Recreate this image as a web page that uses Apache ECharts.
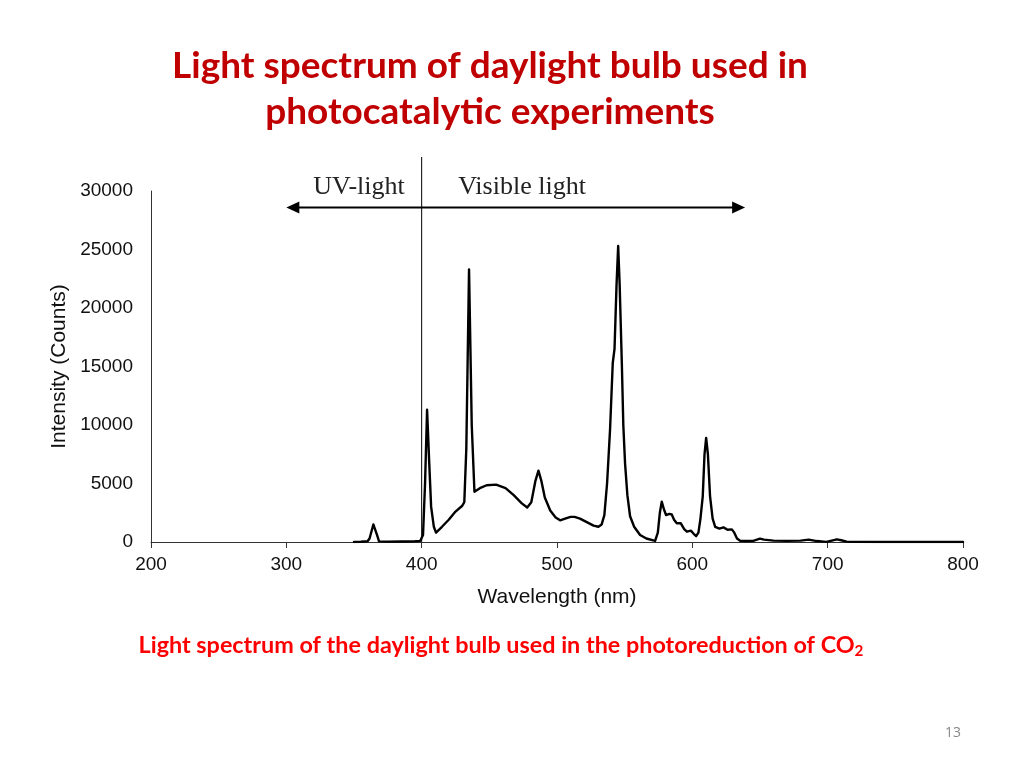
<!DOCTYPE html>
<html><head><meta charset="utf-8">
<script src="https://cdn.jsdelivr.net/npm/echarts@6/dist/echarts.min.js"></script>
<style>html,body{margin:0;padding:0;background:#fff}#c{width:1024px;height:768px}</style>
</head><body><div id="c"></div>
<script>
// ---- data ----
const wavelengths = [350,355,360,361.5,364.3,367,368.5,375,385,395,399,401,402.5,404,405.5,407,409,410.6,415,420,425,430,431.5,433,435,437,439,443,448,455,462,468,474,478,481,484,486.3,488.5,491,495,499,502.3,506,510,513,517,522,527,530.6,533,535,537,539.2,541.2,542.5,544,545.2,546.3,547.9,549,550.3,552,554,557,561.4,566,572.5,574.5,576,577.4,579,580.6,583,584.8,586.5,588.5,591.5,594,596,598.9,601,602.8,604.5,606,607.7,609,610.2,611.5,613.1,615,616.9,620,623,626,629.2,631,633,635.3,640,645,650,653,660,670,680,686,692,699,703,706.8,710,714,720,740,760,780,800];
const intensity = [0,20,60,300,1500,600,50,30,40,60,100,600,5000,11300,7000,3000,1300,800,1300,1900,2600,3100,3400,8000,23300,10000,4300,4600,4850,4900,4600,4000,3300,2950,3400,5200,6100,5200,3800,2700,2100,1850,2000,2150,2150,2000,1700,1400,1300,1500,2300,5000,9600,15300,16500,22000,25300,22000,15300,10000,6700,4000,2200,1300,600,300,90,800,2500,3450,2800,2300,2400,2350,1900,1600,1600,1100,880,970,700,500,800,2000,3900,7500,8900,7500,3900,2000,1300,1150,1250,1050,1080,800,300,110,80,100,290,200,120,100,120,200,80,10,120,230,150,30,10,0,0,0,0];
const xTicks = [200,300,400,500,600,700,800];
const yTicks = [0,5000,10000,15000,20000,25000,30000];
const titleLines = ['Light spectrum of daylight bulb used in','photocatalytic experiments'];
const captionText = 'Light spectrum of the daylight bulb used in the photoreduction of CO';
const regionLabels = ['UV-light','Visible light'];
const boundaryNm = 400;
const arrowRange = [300, 639];
const arrowLevel = 28600;
const pageNumber = '13';

const series = wavelengths.map((w,i)=>[w,intensity[i]]);

function fit(text, font, weight, target){
  const c=document.createElement('canvas').getContext('2d');
  c.font = weight+' 100px '+font;
  return 100*target/c.measureText(text).width;
}
const titleFont = 'Lato';
const tSize = fit(titleLines[0], titleFont, 'bold', 636);
const capSize = fit(captionText+'2', titleFont, 'bold', 730);

const chart = echarts.init(document.getElementById('c'), null, {renderer:'canvas'});
const axisFont = 'Liberation Sans, Arial, sans-serif';
chart.setOption({
  animation:false,
  backgroundColor:'#fff',
  grid:{left:151,right:61,top:191,bottom:226,containLabel:false},
  xAxis:{type:'value',min:xTicks[0],max:xTicks[xTicks.length-1],interval:100,
    name:'Wavelength (nm)',nameLocation:'middle',nameGap:45,
    nameTextStyle:{fontFamily:axisFont,fontSize:21,color:'#111'},
    axisLine:{show:true,lineStyle:{color:'#333',width:1}},
    axisTick:{show:true,length:6,lineStyle:{color:'#333'}},
    axisLabel:{fontFamily:axisFont,fontSize:19,color:'#111',margin:13,formatter:v=>String(v)},
    splitLine:{show:false}},
  yAxis:{type:'value',min:yTicks[0],max:yTicks[yTicks.length-1],interval:5000,
    name:'Intensity (Counts)',nameLocation:'middle',nameGap:80,
    nameTextStyle:{fontFamily:axisFont,fontSize:21,color:'#111'},
    axisLine:{show:true,lineStyle:{color:'#333',width:1}},
    axisTick:{show:false},
    axisLabel:{fontFamily:axisFont,fontSize:19,color:'#111',margin:18,formatter:v=>String(v)},
    splitLine:{show:false}},
  series:[{type:'line',data:series,showSymbol:false,symbol:'none',smooth:false,
    lineStyle:{color:'#000',width:2.4,join:'round',cap:'round'},z:5}]
});

const p0 = chart.convertToPixel({gridIndex:0},[boundaryNm,0]);
const pTop = chart.convertToPixel({gridIndex:0},[boundaryNm,30000]);
const a1 = chart.convertToPixel({gridIndex:0},[arrowRange[0],arrowLevel]);
const a2 = chart.convertToPixel({gridIndex:0},[arrowRange[1],arrowLevel]);
const ay = a1[1];
const serif = 'Liberation Serif, Times New Roman, serif';
chart.setOption({graphic:[
  {type:'line',shape:{x1:p0[0],y1:pTop[1]-34,x2:p0[0],y2:p0[1]},style:{stroke:'#000',lineWidth:1},z:3},
  {type:'line',shape:{x1:a1[0]+4,y1:ay,x2:a2[0]-4,y2:ay},style:{stroke:'#000',lineWidth:2}},
  {type:'polygon',shape:{points:[[a1[0],ay],[a1[0]+13,ay-6],[a1[0]+13,ay+6]]},style:{fill:'#000'}},
  {type:'polygon',shape:{points:[[a2[0],ay],[a2[0]-13,ay-6],[a2[0]-13,ay+6]]},style:{fill:'#000'}},
  {type:'text',x:359,y:ay-20,style:{text:regionLabels[0],font:'26px '+serif,fill:'#222',align:'center',verticalAlign:'middle'}},
  {type:'text',x:522,y:ay-20,style:{text:regionLabels[1],font:'26px '+serif,fill:'#222',align:'center',verticalAlign:'middle'}},
  {type:'text',x:490,y:66,style:{text:titleLines[0],font:'bold '+tSize+'px '+titleFont,fill:'#C00000',align:'center',verticalAlign:'middle'}},
  {type:'text',x:490,y:112,style:{text:titleLines[1],font:'bold '+tSize+'px '+titleFont,fill:'#C00000',align:'center',verticalAlign:'middle'}},
  {type:'text',x:501,y:645,style:{text:'{a|'+captionText+'}{s|2}',align:'center',verticalAlign:'middle',fill:'#FF0000',
     rich:{a:{fontFamily:titleFont,fontWeight:'bold',fontSize:capSize,fill:'#FF0000'},
           s:{fontFamily:titleFont,fontWeight:'bold',fontSize:capSize*0.65,fill:'#FF0000',padding:[capSize*0.55,0,0,0]}}}},
  {type:'text',x:953,y:733,style:{text:pageNumber,font:'14px "Open Sans", sans-serif',fill:'#888',align:'center',verticalAlign:'middle'}}
]});
</script></body></html>
